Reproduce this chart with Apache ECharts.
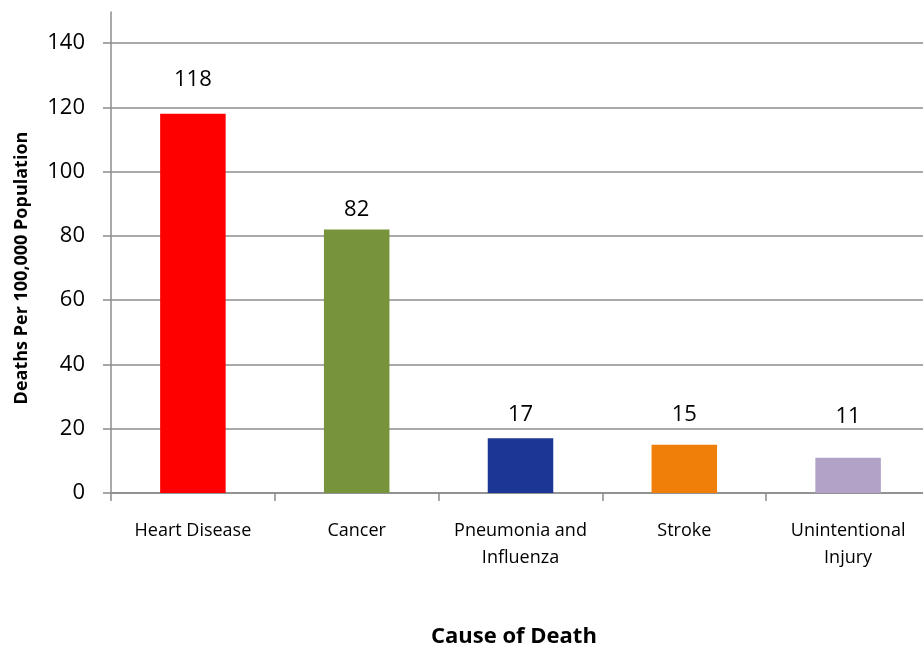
<!DOCTYPE html>
<html>
<head>
<meta charset="utf-8">
<script src="https://cdn.jsdelivr.net/npm/echarts@6/dist/echarts.min.js"></script>
<style>
html,body{margin:0;padding:0;background:#fff;overflow:hidden;}
#chart{width:940px;height:648px;}
</style>
</head>
<body>
<div id="chart"></div>
<script>
const categories = ['Heart Disease', 'Cancer', 'Pneumonia and\nInfluenza', 'Stroke', 'Unintentional\nInjury'];
const deathRates = [118, 82, 17, 15, 11];
const barColors = ['#FF0000', '#77933C', '#1C3695', '#F07F09', '#B3A2C7'];
const labelGaps = [23, 9, 13, 19, 30];
const yAxisTitle = 'Deaths Per 100,000 Population';
const xAxisTitle = 'Cause of Death';

const FONT = '"Open Sans", "Noto Sans", sans-serif';
const AX = '#8c8c8c';

const chart = echarts.init(document.getElementById('chart'), null, {renderer: 'canvas'});
chart.setOption({
  animation: false,
  backgroundColor: '#fff',
  textStyle: {fontFamily: FONT},
  title: {
    text: xAxisTitle,
    left: 426, top: 621,
    textStyle: {fontFamily: FONT, fontSize: 22, fontWeight: 'bold', color: '#000'}
  },
  grid: [
    {left: 111, width: 819, top: 43, bottom: 155, containLabel: false},
    {left: 111, width: 819, top: 12, bottom: 155, containLabel: false}
  ],
  xAxis: [
    {
      type: 'category', gridIndex: 0, data: categories,
      axisLine: {show: true, lineStyle: {color: AX, width: 1.5}},
      axisTick: {show: true, length: 8, lineStyle: {color: AX, width: 1.5}},
      axisLabel: {color: '#000', fontSize: 18, lineHeight: 27, margin: 24, fontFamily: FONT, interval: 0}
    },
    {type: 'category', gridIndex: 1, data: categories, show: false}
  ],
  yAxis: [
    {
      type: 'value', gridIndex: 0, min: 0, max: 140, interval: 20,
      axisLine: {show: false},
      axisTick: {show: true, length: 8, lineStyle: {color: AX, width: 1.5}},
      axisLabel: {color: '#000', fontSize: 22, margin: 26, fontFamily: FONT},
      splitLine: {show: true, lineStyle: {color: AX, width: 1.5}},
      name: yAxisTitle, nameLocation: 'middle', nameGap: 80,
      nameTextStyle: {fontSize: 18, fontWeight: 'bold', color: '#000', fontFamily: FONT}
    },
    {
      type: 'value', gridIndex: 1, min: 0, max: 150,
      axisLine: {show: true, lineStyle: {color: AX, width: 1.5}},
      axisTick: {show: false}, axisLabel: {show: false}, splitLine: {show: false}
    }
  ],
  series: [{
    type: 'bar', xAxisIndex: 0, yAxisIndex: 0,
    barWidth: '40%',
    data: deathRates.map((v, i) => ({
      value: v,
      itemStyle: {color: barColors[i]},
      label: {distance: labelGaps[i]}
    })),
    label: {show: true, position: 'top', fontSize: 22, color: '#000', fontFamily: FONT}
  }]
});
</script>
</body>
</html>
